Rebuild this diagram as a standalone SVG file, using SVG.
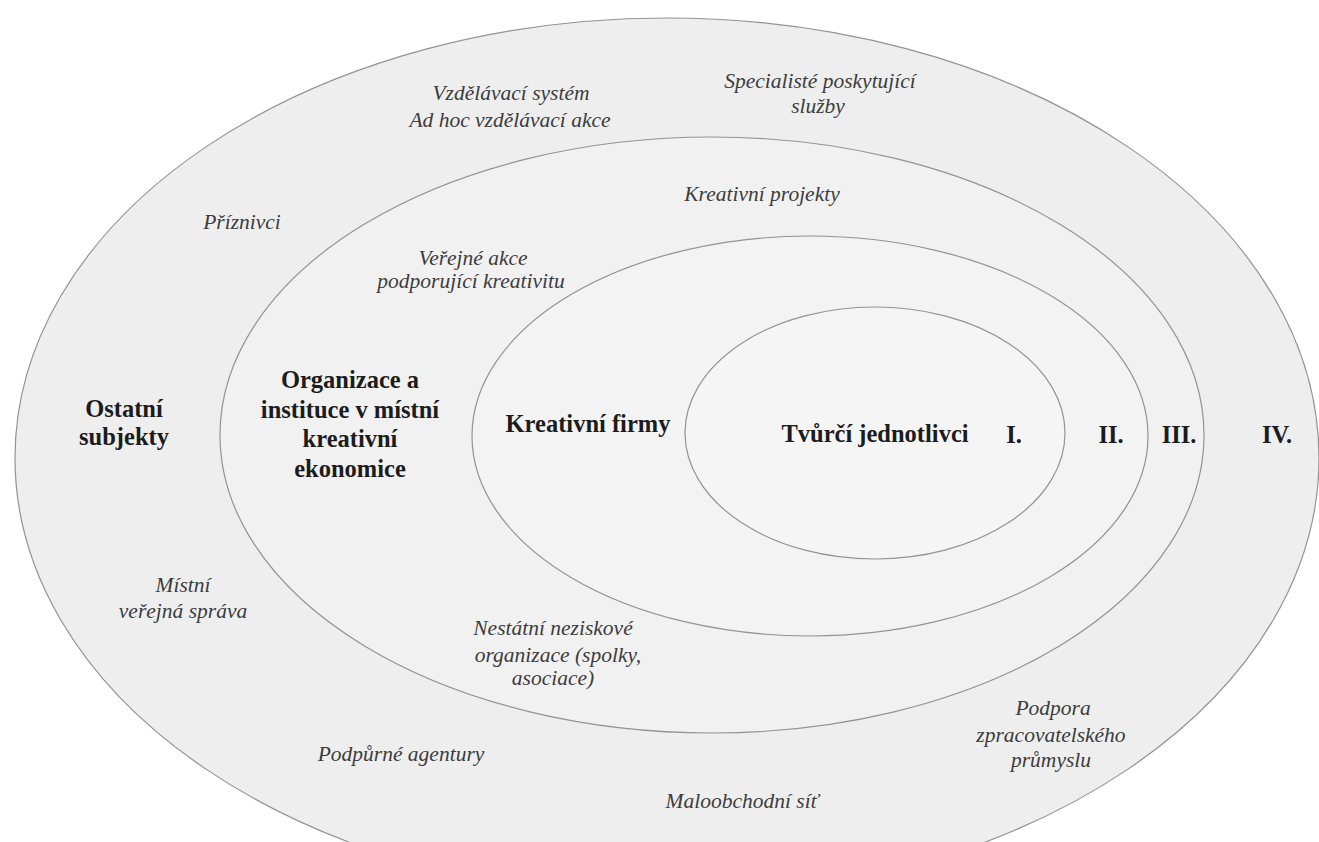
<svg xmlns="http://www.w3.org/2000/svg" width="1319" height="842" viewBox="0 0 1319 842">
<style>
.ring{stroke:#939393;stroke-width:1.2}
.b{font-family:'Liberation Serif','Times New Roman','DejaVu Serif',serif;font-weight:700;font-size:24.5px;fill:#1c1c1c;text-anchor:middle}
.i{font-family:'Liberation Serif','Times New Roman','DejaVu Serif',serif;font-style:italic;font-size:21.5px;fill:#3c3c3c;text-anchor:middle}
</style>
<rect x="0" y="0" width="1319" height="842" fill="#ffffff"/>
<g id="ring-IV">
<ellipse class="ring" cx="667" cy="458" rx="652" ry="440" fill="#eeeeef"/>
<text class="b" x="124" y="417">Ostatní</text>
<text class="b" x="124" y="445">subjekty</text>
<text class="b" x="1277" y="443">IV.</text>
<text class="i" x="511" y="100">Vzdělávací systém</text>
<text class="i" x="510" y="127">Ad hoc vzdělávací akce</text>
<text class="i" x="820" y="88">Specialisté poskytující</text>
<text class="i" x="818" y="113">služby</text>
<text class="i" x="242" y="229">Příznivci</text>
<text class="i" x="183" y="592">Místní</text>
<text class="i" x="183" y="618">veřejná správa</text>
<text class="i" x="1053" y="715">Podpora</text>
<text class="i" x="1051" y="742">zpracovatelského</text>
<text class="i" x="1051" y="767">průmyslu</text>
<text class="i" x="401" y="761">Podpůrné agentury</text>
<text class="i" x="742" y="808">Maloobchodní síť</text>
</g>
<g id="ring-III">
<ellipse class="ring" cx="712" cy="435" rx="492" ry="298" fill="#f1f1f2"/>
<text class="b" x="350" y="388">Organizace a</text>
<text class="b" x="350" y="418">instituce v místní</text>
<text class="b" x="350" y="447">kreativní</text>
<text class="b" x="350" y="477">ekonomice</text>
<text class="b" x="1179" y="443">III.</text>
<text class="i" x="762" y="201">Kreativní projekty</text>
<text class="i" x="473" y="265">Veřejné akce</text>
<text class="i" x="471" y="288">podporující kreativitu</text>
<text class="i" x="553" y="635">Nestátní neziskové</text>
<text class="i" x="558" y="662">organizace (spolky,</text>
<text class="i" x="553" y="685">asociace)</text>
</g>
<g id="ring-II">
<ellipse class="ring" cx="810" cy="436" rx="338" ry="200" fill="#f3f3f4"/>
<text class="b" x="588" y="432">Kreativní firmy</text>
<text class="b" x="1111" y="443">II.</text>
</g>
<g id="ring-I">
<ellipse class="ring" cx="875" cy="433" rx="190" ry="126" fill="#f5f5f6"/>
<text class="b" x="875" y="442">Tvůrčí jednotlivci</text>
<text class="b" x="1014" y="443">I.</text>
</g>
<g id="connectors"/>
</svg>
